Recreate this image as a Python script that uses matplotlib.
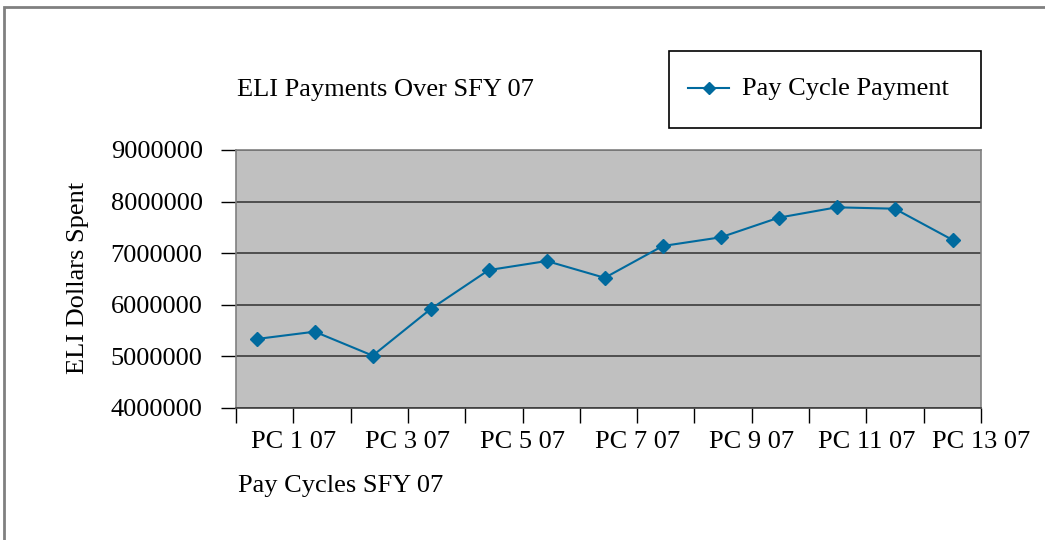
import matplotlib
matplotlib.use("Agg")
import matplotlib.pyplot as plt
from matplotlib.patches import Rectangle
from matplotlib.lines import Line2D
import numpy as np

plt.rcParams['font.family'] = ['Liberation Serif', 'DejaVu Serif']

categories = ["PC 1 07", "PC 2 07", "PC 3 07", "PC 4 07", "PC 5 07", "PC 6 07", "PC 7 07",
              "PC 8 07", "PC 9 07", "PC 10 07", "PC 11 07", "PC 12 07", "PC 13 07"]
payments = [5333000, 5475000, 5010000, 5915000, 6670000, 6846000, 6520000,
            7137000, 7306000, 7687000, 7888000, 7861000, 7254000]
y_ticks = [4000000, 5000000, 6000000, 7000000, 8000000, 9000000]

title = "ELI Payments Over SFY 07"
series_name = "Pay Cycle Payment"
x_title = "Pay Cycles SFY 07"
y_title = "ELI Dollars Spent"

W, H = 1045, 540
fig = plt.figure(figsize=(W / 100, H / 100), dpi=100)
fs = 19

# outer chart border
fig.patches.append(Rectangle((4 / W, -0.1), 1.2, (H - 7) / H + 0.1, transform=fig.transFigure,
                             fill=False, edgecolor='#808080', linewidth=2))

ax = fig.add_axes([236 / W, (H - 407.7) / H, (981 - 236) / W, (407.7 - 150) / H])
ax.set_facecolor('#C0C0C0')

n = len(categories)
xs = np.arange(n) + 0.5
line, = ax.plot(xs, payments, color='#006A9E', linewidth=1.5, marker='D', markersize=7,
                markeredgecolor='#006A9E', markerfacecolor='#006A9E', zorder=3)

xmin, xmax = 0.143, 12.988
ax.set_xlim(xmin, xmax)
ax.set_ylim(y_ticks[0], y_ticks[-1])
ax.set_yticks(y_ticks)
ax.set_yticklabels([str(v) for v in y_ticks], fontsize=fs)
ax.yaxis.grid(True, color='#303030', linewidth=1.1)
ax.set_axisbelow(True)

xt = np.linspace(xmin, xmax, n + 1)
xl = [''] * (n + 1)
for i, c in enumerate(categories):
    if i % 2 == 0:
        xl[i + 1] = c
ax.set_xticks(xt)
ax.set_xticklabels(xl, fontsize=fs)

ax.tick_params(axis='y', length=11, width=1, color='black', pad=13)
ax.tick_params(axis='x', length=11, width=1, color='black', pad=6)
for s in ['top', 'right', 'left']:
    ax.spines[s].set_color('#808080')
    ax.spines[s].set_linewidth(1.2)
ax.spines['bottom'].set_color('#404040')
ax.spines['bottom'].set_linewidth(1.2)

fig.text(237 / W, 1 - 90 / H, title, fontsize=fs, ha='left', va='center')
fig.text(238 / W, 1 - 486 / H, x_title, fontsize=fs, ha='left', va='center')
fig.text(78 / W, 1 - 278 / H, y_title, fontsize=fs, ha='center', va='center', rotation=90)

# legend box
fig.patches.append(Rectangle((669 / W, 1 - 128 / H), (981 - 669) / W, (128 - 50.7) / H,
                             transform=fig.transFigure, fill=True, facecolor='white',
                             edgecolor='black', linewidth=1.2))
fig.lines.append(Line2D([688 / W, 729 / W], [1 - 88 / H, 1 - 88 / H], transform=fig.transFigure,
                        color='#006A9E', linewidth=1.5))
fig.lines.append(Line2D([708.5 / W], [1 - 88 / H], transform=fig.transFigure, color='#006A9E',
                        marker='D', markersize=6, linestyle='none'))
fig.text(742 / W, 1 - 89.5 / H, series_name, fontsize=fs, ha='left', va='center')

fig.savefig('out.png', dpi=100)
